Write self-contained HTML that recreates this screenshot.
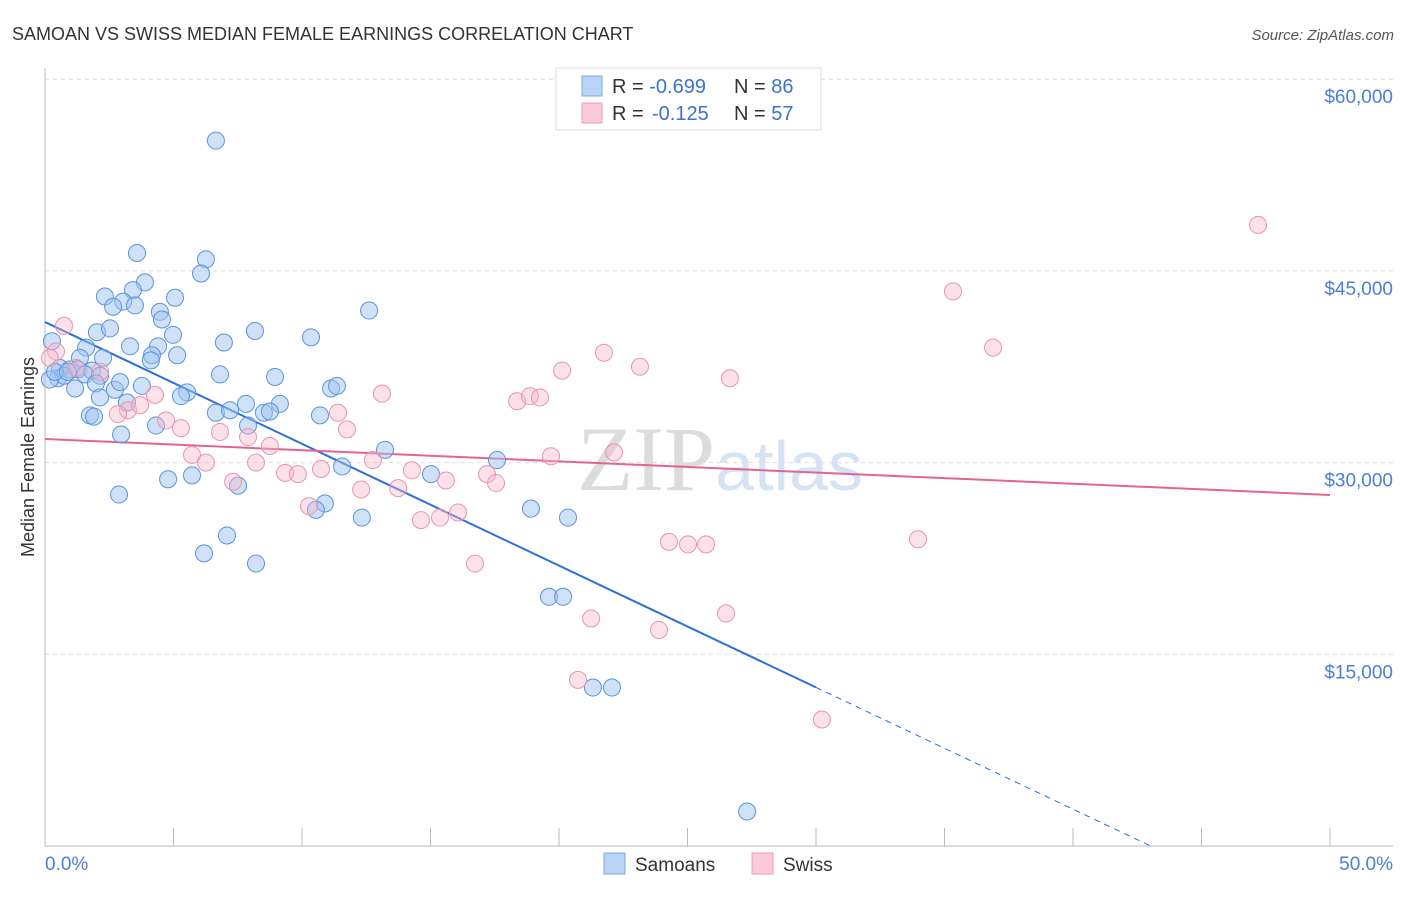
<!DOCTYPE html>
<html><head><meta charset="utf-8"><style>
body{margin:0;background:#fff;font-family:"Liberation Sans",sans-serif}
svg text{font-family:"Liberation Sans",sans-serif}
</style></head><body>
<svg id="c" width="1406" height="892">
<text x="12" y="40" font-size="18" fill="#333">SAMOAN VS SWISS MEDIAN FEMALE EARNINGS CORRELATION CHART</text>
<text x="1394" y="40" font-size="15" fill="#555" font-style="italic" text-anchor="end">Source: ZipAtlas.com</text>
<text x="720" y="490" font-size="92" fill="#e4e4e4" text-anchor="middle" font-family="Liberation Serif"><tspan font-family="Liberation Serif" fill="#dcdcdc">ZIP</tspan><tspan font-family="Liberation Sans" fill="#d6e3f5" font-size="70">atlas</tspan></text>
<g id="grid"></g><g id="axes"></g><g id="lines"></g><g id="pts"></g>
<text transform="translate(34,457) rotate(-90)" font-size="18" fill="#333" text-anchor="middle">Median Female Earnings</text>
<g>
<rect x="556" y="68" width="265" height="62" fill="#fff" stroke="#ddd"/>
<rect x="582" y="76" width="20" height="20" fill="#b9d3f5" stroke="#7eaae8"/>
<rect x="582" y="103" width="20" height="20" fill="#fbcad8" stroke="#ee9fb8"/>
<text x="612" y="93" font-size="20" fill="#333">R = <tspan fill="#3b73d1">-0.699</tspan><tspan x="734">N = </tspan><tspan fill="#3b73d1">86</tspan></text>
<text x="612" y="120" font-size="20" fill="#333">R = <tspan fill="#3b73d1" x="652">-0.125</tspan><tspan x="734">N = </tspan><tspan fill="#3b73d1">57</tspan></text>
</g>
<g>
<rect x="604" y="853" width="21" height="21" fill="#b9d3f5" stroke="#7eaae8"/>
<text x="635" y="871" font-size="19" fill="#333">Samoans</text>
<rect x="752" y="853" width="21" height="21" fill="#fbcad8" stroke="#ee9fb8"/>
<text x="783" y="871" font-size="19" fill="#333">Swiss</text>
</g>
</svg>
<script>
const blueX=[6.65,3.58,6.26,6.07,3.89,2.33,3.42,3.04,2.65,3.50,5.06,4.47,4.55,12.61,2.02,2.53,4.98,10.35,8.17,6.96,0.27,3.31,4.40,1.60,4.16,1.36,2.26,5.14,4.12,0.58,0.97,1.28,1.83,0.51,0.74,1.56,2.14,1.98,1.17,6.81,8.95,11.13,11.36,3.77,2.72,5.53,5.29,2.14,3.19,7.82,9.14,1.75,1.91,6.65,7.20,8.52,8.75,10.70,4.32,7.90,2.96,13.23,17.59,15.02,11.56,4.79,5.72,7.51,2.88,10.89,10.54,12.33,18.91,20.35,7.08,6.19,8.21,19.61,20.16,21.32,22.06,27.32,0.19,0.39,2.92,0.89];
const blueY=[55.2,46.4,45.9,44.8,44.1,43.0,43.5,42.6,42.2,42.3,42.9,41.8,41.2,41.9,40.2,40.5,40.0,39.8,40.3,39.4,39.5,39.1,39.1,39.0,38.4,38.2,38.2,38.4,38.0,37.4,37.3,37.3,37.2,36.6,36.8,36.9,36.8,36.2,35.8,36.9,36.7,35.8,36.0,36.0,35.7,35.5,35.2,35.1,34.7,34.6,34.6,33.7,33.6,33.9,34.1,33.9,34.0,33.7,32.9,32.9,32.2,31.0,30.2,29.1,29.7,28.7,29.0,28.2,27.5,26.8,26.3,25.7,26.4,25.7,24.3,22.9,22.1,19.5,19.5,12.4,12.4,2.7,36.5,37.1,36.3,37.1];
const pinkX=[0.74,0.43,0.19,1.21,2.14,3.23,4.28,3.70,2.84,4.71,5.29,5.72,6.26,6.81,7.90,7.32,8.21,8.75,9.34,9.84,10.27,10.74,11.40,11.75,12.30,12.76,13.11,13.74,14.28,14.63,15.37,15.60,16.07,16.73,17.20,17.55,18.37,18.87,19.26,19.69,20.12,21.25,21.75,22.14,23.15,23.89,24.28,25.02,25.72,26.50,26.65,20.74,30.23,33.97,35.33,36.89,47.20];
const pinkY=[40.7,38.7,38.2,37.4,37.1,34.1,35.3,34.5,33.8,33.3,32.7,30.6,30.0,32.4,32.0,28.5,30.0,31.3,29.2,29.1,26.6,29.5,33.9,32.6,27.9,30.2,35.4,28.0,29.4,25.5,25.7,28.6,26.1,22.1,29.1,28.4,34.8,35.2,35.1,30.5,37.2,17.8,38.6,30.8,37.5,16.9,23.8,23.6,23.6,18.2,36.6,13.0,9.9,24.0,43.4,39.0,48.6];
const blueTrend=[41.0,-6.65];
const pinkTrend=[31.85,27.47];
const yTicks=[15,30,45,60];
const xTicks=[0,5,10,15,20,25,30,35,40,45,50];
const NS="http://www.w3.org/2000/svg";
const sx=v=>45+v*25.7, sy=v=>846-v*1000/78.25;
function mk(tag,attrs,parent){const e=document.createElementNS(NS,tag);for(const k in attrs)e.setAttribute(k,attrs[k]);document.getElementById(parent).appendChild(e);return e;}
yTicks.forEach(t=>{
 const l=mk('line',{x1:45,x2:1393,y1:sy(t),y2:sy(t),stroke:'#ddd','stroke-dasharray':'4,4'},'grid');
 
 
 const tx=mk('text',{x:1393,y:sy(t)+24,'font-size':19,fill:'#4a7fd6','text-anchor':'end'},'grid');
 tx.textContent='$'+(t*1000).toLocaleString('en-US');
 
 
});
mk('line',{x1:45,x2:45,y1:68,y2:846,stroke:'#bbb'},'axes');
mk('line',{x1:45,x2:1393,y1:846,y2:846,stroke:'#bbb'},'axes');
xTicks.forEach(t=>{
 const l=mk('line',{x1:sx(t),x2:sx(t),y1:828,y2:846,stroke:'#bbb'},'axes');
 
 
});
[[0,'0.0%','start',45],[50,'50.0%','end',1393]].forEach(a=>{
 const tx=mk('text',{x:a[3],y:870,'font-size':19,fill:'#4a7fd6','text-anchor':a[2]},'axes');
 tx.textContent=a[1];
 
 
});
const by=x=>blueTrend[0]+(blueTrend[1]-blueTrend[0])*x/50;
const py=x=>pinkTrend[0]+(pinkTrend[1]-pinkTrend[0])*x/50;
let l1=mk('line',{x1:sx(0),y1:sy(by(0)),x2:sx(30),y2:sy(by(30)),stroke:'#2a6fdb','stroke-width':2},'lines');


const xEnd=(0-blueTrend[0])/(blueTrend[1]-blueTrend[0])*50;
let l2=mk('line',{x1:sx(30),y1:sy(by(30)),x2:sx(xEnd),y2:sy(0),stroke:'#2a6fdb','stroke-width':1,'stroke-dasharray':'6,5'},'lines');


let l3=mk('line',{x1:sx(0),y1:sy(py(0)),x2:sx(50),y2:sy(py(50)),stroke:'#e36490','stroke-width':2},'lines');


blueX.forEach((x,i)=>{
 const c=mk('circle',{cx:sx(x),cy:sy(blueY[i]),r:8.5,fill:'rgba(160,196,240,0.5)',stroke:'#5b93dd','stroke-width':1},'pts');
 
 
});
pinkX.forEach((x,i)=>{
 const c=mk('circle',{cx:sx(x),cy:sy(pinkY[i]),r:8.5,fill:'rgba(248,180,200,0.4)',stroke:'#e895b0','stroke-width':1},'pts');
 
 
});
</script>
</body></html>
